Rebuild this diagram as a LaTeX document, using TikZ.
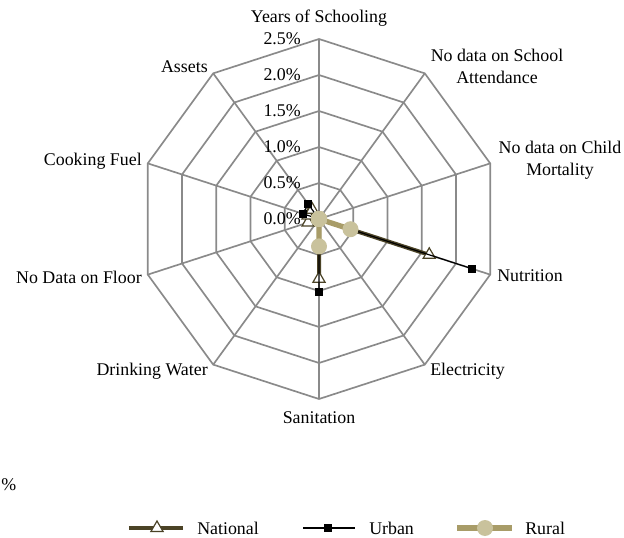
\documentclass[tikz,border=0pt]{standalone}
\usepackage{fontspec}
\setmainfont{Liberation Serif}
\usetikzlibrary{shapes.geometric}
\definecolor{gridgray}{HTML}{8A8A8A}
\definecolor{natcol}{HTML}{4B4326}
\definecolor{rurcol}{HTML}{A89C68}
\definecolor{rurfill}{HTML}{C9C29C}

\begin{document}
\begin{tikzpicture}[x=0.75pt,y=0.75pt,
	lbl/.style={font=\fontsize{13.4}{16.5}\selectfont, inner sep=0pt, align=center},
	ring/.style={gridgray, line width=1.25pt},
	natline/.style={natcol, line width=3pt},
	urbline/.style={black, line width=0.9pt},
	rurline/.style={rurcol, line width=4pt},
	natmark/.style={regular polygon, regular polygon sides=3, draw=natcol, fill=white, line width=0.9pt, minimum size=10.5pt, inner sep=0pt},
	urbmark/.style={rectangle, fill=black, minimum size=6pt, inner sep=0pt},
	rurmark/.style={circle, fill=rurfill, minimum size=12pt, inner sep=0pt}]
	\useasboundingbox (-319,-319) rectangle (305,219);
	% grid
	\foreach \k in {1,...,5} {
		\draw[ring] (90:\k*36) \foreach \i in {1,...,9} { -- ({90-36*\i}:\k*36) } -- cycle;
	}
	\foreach \i in {0,...,9}
		\draw[ring] (0,0) -- ({90-36*\i}:180);
	\foreach \v [count=\k from 0] in {0.0,0.5,1.0,1.5,2.0,2.5}
		\node[lbl, anchor=east] (tick\k) at (-18,\k*36) {\v\%};
	% axis labels
	\node[lbl] (years) at (0,201) {Years of Schooling};
	\node[lbl] (school) at (178,153) {No data on School\\Attendance};
	\node[lbl] (child) at (241,59) {No data on Child\\Mortality};
	\node[lbl, anchor=west] (nutr) at (178,-57) {Nutrition};
	\node[lbl, anchor=west] (elec) at (111,-152) {Electricity};
	\node[lbl] (sanit) at (0,-199) {Sanitation};
	\node[lbl, anchor=east] (water) at (-111,-152) {Drinking Water};
	\node[lbl, anchor=east] (floor) at (-177,-58) {No Data on Floor};
	\node[lbl, anchor=east] (fuel) at (-177,58) {Cooking Fuel};
	\node[lbl, anchor=east] (assets) at (-111,152) {Assets};
	\node[lbl, anchor=west] (pct) at (-318,-266) {\%};
	% series
	\foreach \v [count=\i from 0] in {0,0,0,1.61,0,0.83,0,0.16,0.16,0.16}
		\coordinate (nat\i) at ({90-36*\i}:{\v*72});
	\foreach \v [count=\i from 0] in {0,0,0,2.23,0,1.01,0,0,0.24,0.25}
		\coordinate (urb\i) at ({90-36*\i}:{\v*72});
	\foreach \v [count=\i from 0] in {0,0,0,0.46,0,0.38,0,0,0,0}
		\coordinate (rur\i) at ({90-36*\i}:{\v*72});
	\draw[natline] (nat0) \foreach \i in {1,...,9} { -- (nat\i) } -- cycle;
	\foreach \i in {0,...,9}
		\node[natmark] (natm\i) at (nat\i) {};
	\draw[urbline] (urb0) \foreach \i in {1,...,9} { -- (urb\i) } -- cycle;
	\foreach \i in {0,...,9}
		\node[urbmark] (urbm\i) at (urb\i) {};
	\draw[rurline] (rur0) \foreach \i in {1,...,9} { -- (rur\i) } -- cycle;
	\foreach \i in {0,...,9}
		\node[rurmark] (rurm\i) at (rur\i) {};
	% legend
	\coordinate (natA) at (-190,-309);
	\coordinate (natB) at (-136,-309);
	\draw[natline] (natA) -- (natB);
	\node[natmark] (natkey) at (-162,-309) {};
	\node[lbl, anchor=west] (nattxt) at (-122,-309) {National};
	\coordinate (urbA) at (-16,-309);
	\coordinate (urbB) at (36,-309);
	\draw[urbline] (urbA) -- (urbB);
	\node[urbmark] (urbkey) at (9,-309) {};
	\node[lbl, anchor=west] (urbtxt) at (50,-309) {Urban};
	\coordinate (rurA) at (138,-309);
	\coordinate (rurB) at (193,-309);
	\draw[rurline] (rurA) -- (rurB);
	\node[rurmark] (rurkey) at (166,-309) {};
	\node[lbl, anchor=west] (rurtxt) at (206,-309) {Rural};
\end{tikzpicture}
\end{document}
